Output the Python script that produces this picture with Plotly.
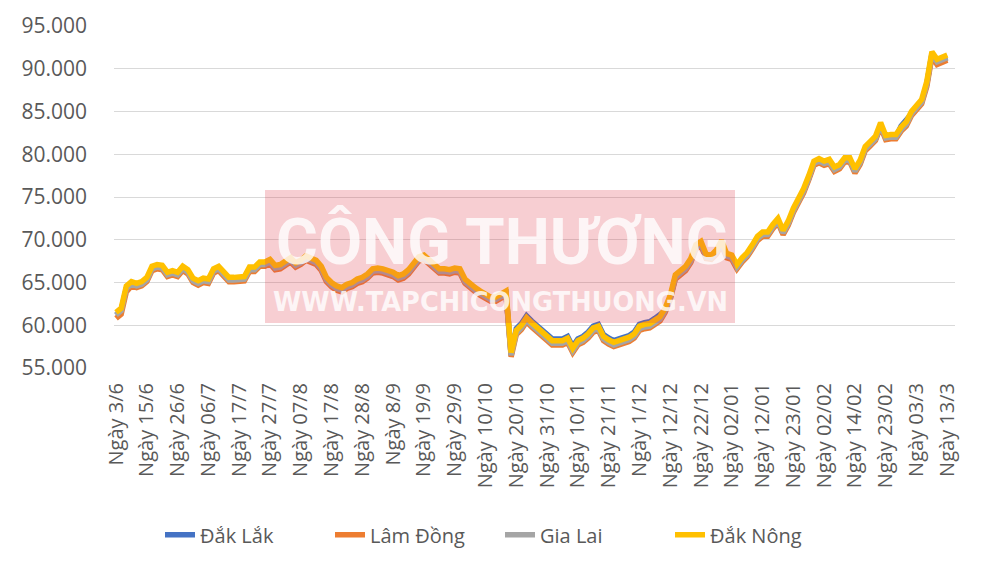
import plotly.graph_objects as go

# Tick labels (one every 6 data points)
tick_labels = ["Ngày 3/6", "Ngày 15/6", "Ngày 26/6", "Ngày 06/7", "Ngày 17/7", "Ngày 27/7",
               "Ngày 07/8", "Ngày 17/8", "Ngày 28/8", "Ngày 8/9", "Ngày 19/9", "Ngày 29/9",
               "Ngày 10/10", "Ngày 20/10", "Ngày 31/10", "Ngày 10/11", "Ngày 21/11", "Ngày 1/12",
               "Ngày 12/12", "Ngày 22/12", "Ngày 02/01", "Ngày 12/01", "Ngày 23/01", "Ngày 02/02",
               "Ngày 14/02", "Ngày 23/02", "Ngày 03/3", "Ngày 13/3"]
points_per_label = 6

series_names = ["Đắk Lắk", "Lâm Đồng", "Gia Lai", "Đắk Nông"]

dak_lak = [
    61200, 61700, 64300, 64800, 64600, 64800, 65300, 66600, 66800, 66700, 65900, 66100,
    65900, 66600, 66200, 65200, 64900, 65200, 65100, 66300, 66600, 65900, 65300, 65300,
    65400, 65400, 66500, 66500, 67100, 67100, 67400, 66700, 66800, 67300, 67600, 67000,
    67300, 67800, 67600, 67300, 66600, 65300, 64700, 64300, 64100, 64500, 64700, 65100,
    65300, 65700, 66300, 66400, 66300, 66100, 65900, 65500, 65700, 66200, 67000, 67700,
    67900, 67300, 66700, 66300, 66300, 66200, 66400, 66300, 65100, 64500, 64100, 63700,
    63400, 63000, 63000, 63300, 63700, 56500, 59600, 60200, 61100, 60500, 60000, 59500,
    59000, 58400, 58400, 58400, 58700, 57500, 58400, 58700, 59200, 59900, 60100, 58900,
    58500, 58200, 58400, 58600, 58800, 59200, 60100, 60300, 60400, 60800, 61200, 61700,
    63200, 65600, 66100, 66600, 67500, 69100, 69500, 68000, 67900, 68500, 69600, 68100,
    67900, 66800, 67600, 68200, 69100, 70100, 70600, 70600, 71500, 72200, 70800, 71900,
    73400, 74500, 75700, 77200, 78900, 79200, 78900, 79100, 78200, 78500, 79300, 79300,
    78000, 79000, 80600, 81200, 81800, 83400, 81900, 82000, 82000, 83300, 83900, 84700,
    85500, 86100, 88200, 91700, 90800, 91100, 91300]

lam_dong = [
    60800, 61300, 63900, 64600, 64400, 64600, 65100, 66400, 66600, 66500, 65700, 65900,
    65700, 66400, 66000, 65000, 64700, 65000, 64900, 66100, 66400, 65700, 65100, 65100,
    65200, 65200, 66300, 66300, 66900, 66900, 67200, 66500, 66600, 67100, 67400, 66800,
    67100, 67600, 67400, 67100, 66400, 65100, 64500, 64100, 63900, 64300, 64500, 64900,
    65100, 65500, 66100, 66200, 66100, 65900, 65700, 65300, 65500, 66000, 66800, 67500,
    67700, 67100, 66500, 66100, 66100, 66000, 66200, 66100, 64900, 64300, 63900, 63500,
    63200, 62800, 62800, 63100, 63500, 56300, 58900, 59500, 60400, 59800, 59300, 58800,
    58300, 57700, 57700, 57700, 58000, 56800, 57700, 58000, 58500, 59200, 59400, 58200,
    57800, 57500, 57700, 57900, 58100, 58500, 59400, 59600, 59700, 60100, 60500, 61500,
    63000, 65400, 65900, 66400, 67300, 68900, 69300, 67800, 67700, 68300, 69400, 67900,
    67700, 66600, 67400, 68000, 68900, 69900, 70400, 70400, 71300, 72000, 70600, 71700,
    73200, 74300, 75500, 77000, 78700, 79000, 78700, 78900, 78000, 78300, 79100, 79100,
    77800, 78800, 80400, 81000, 81600, 83200, 81700, 81800, 81800, 82700, 83300, 84500,
    85300, 85900, 87900, 91400, 90500, 90800, 91000]

gia_lai = [
    61200, 61700, 64300, 64800, 64600, 64800, 65300, 66600, 66800, 66700, 65900, 66100,
    65900, 66600, 66200, 65200, 64900, 65200, 65100, 66300, 66600, 65900, 65300, 65300,
    65400, 65400, 66500, 66500, 67100, 67100, 67400, 66700, 66800, 67300, 67600, 67000,
    67300, 67800, 67600, 67300, 66600, 65300, 64700, 64300, 64100, 64500, 64700, 65100,
    65300, 65700, 66300, 66400, 66300, 66100, 65900, 65500, 65700, 66200, 67000, 67700,
    67900, 67300, 66700, 66300, 66300, 66200, 66400, 66300, 65100, 64500, 64100, 63700,
    63400, 63000, 63000, 63300, 63700, 56500, 59100, 59700, 60600, 60000, 59500, 59000,
    58500, 57900, 57900, 57900, 58200, 57000, 57900, 58200, 58700, 59400, 59600, 58400,
    58000, 57700, 57900, 58100, 58300, 58700, 59600, 59800, 59900, 60300, 60700, 61700,
    63200, 65600, 66100, 66600, 67500, 69100, 69500, 68000, 67900, 68500, 69600, 68100,
    67900, 66800, 67600, 68200, 69100, 70100, 70600, 70600, 71500, 72200, 70800, 71900,
    73400, 74500, 75700, 77200, 78900, 79200, 78900, 79100, 78200, 78500, 79300, 79300,
    78000, 79000, 80600, 81200, 81800, 83400, 81900, 82000, 82000, 82900, 83500, 84700,
    85500, 86100, 88200, 91700, 90800, 91100, 91300]

dak_nong = [
    61500, 62000, 64600, 65100, 64900, 65100, 65600, 66900, 67100, 67000, 66200, 66400,
    66200, 66900, 66500, 65500, 65200, 65500, 65400, 66600, 66900, 66200, 65600, 65600,
    65700, 65700, 66800, 66800, 67400, 67400, 67700, 67000, 67100, 67600, 67900, 67300,
    67600, 68100, 67900, 67600, 66900, 65600, 65000, 64600, 64400, 64800, 65000, 65400,
    65600, 66000, 66600, 66700, 66600, 66400, 66200, 65800, 66000, 66500, 67300, 68000,
    68200, 67600, 67000, 66600, 66600, 66500, 66700, 66600, 65400, 64800, 64400, 64000,
    63700, 63300, 63300, 63600, 64000, 56800, 59400, 60000, 60900, 60300, 59800, 59300,
    58800, 58200, 58200, 58200, 58500, 57300, 58200, 58500, 59000, 59700, 59900, 58700,
    58300, 58000, 58200, 58400, 58600, 59000, 59900, 60100, 60200, 60600, 61000, 62000,
    63500, 65900, 66400, 66900, 67800, 69400, 69800, 68300, 68200, 68800, 69900, 68400,
    68200, 67100, 67900, 68500, 69400, 70400, 70900, 70900, 71800, 72500, 71100, 72200,
    73700, 74800, 76000, 77500, 79200, 79500, 79200, 79400, 78500, 78800, 79600, 79600,
    78300, 79300, 80900, 81500, 82100, 83700, 82200, 82300, 82300, 83200, 83800, 85000,
    85800, 86400, 88500, 92000, 91100, 91400, 91600]

y_ticks = [55000, 60000, 65000, 70000, 75000, 80000, 85000, 90000, 95000]
colors = ["#4472C4", "#ED7D31", "#A5A5A5", "#FFC000"]

n = len(dak_nong)
x = list(range(n))

fig = go.Figure()
for name, vals, col in zip(series_names, [dak_lak, lam_dong, gia_lai, dak_nong], colors):
    fig.add_trace(go.Scatter(x=x, y=vals, mode="lines", name=name,
                             line=dict(color=col, width=5.5)))

fig.update_layout(
    width=1000, height=563,
    margin=dict(l=114, r=45, t=26, b=195),
    paper_bgcolor="white", plot_bgcolor="white",
    separators=",.",
    font=dict(family="Open Sans, sans-serif", color="#595959", size=20),
    showlegend=True,
    legend=dict(orientation="h", xref="container", yref="container",
                x=0.5, xanchor="center", y=0.05, yanchor="middle",
                font=dict(size=20, color="#595959"),
                entrywidth=125, entrywidthmode="pixels",
                traceorder="normal"),
)
fig.update_xaxes(
    range=[-0.4, n - 1 + 1.5],
    tickmode="array",
    tickvals=list(range(0, n, points_per_label)),
    ticktext=tick_labels,
    tickangle=-90,
    tickfont=dict(size=20, color="#595959"),
    showgrid=False, zeroline=False, showline=False,
    ticks="", ticklabelstandoff=10,
)
fig.update_yaxes(
    range=[55000, 95000],
    tickmode="array", tickvals=y_ticks,
    tickformat=",d",
    tickfont=dict(size=21, color="#595959"),
    showgrid=True, gridcolor="#D9D9D9", gridwidth=1.3,
    zeroline=False, showline=False, ticks="", ticklabelstandoff=26,
)

# Watermark
def px_x(p):
    return (p - 114) / 841.0

def px_y(p):
    return (368 - p) / 342.0

fig.add_shape(type="rect", xref="paper", yref="paper",
              x0=px_x(265), x1=px_x(735), y0=px_y(323), y1=px_y(190),
              fillcolor="rgba(225,60,75,0.25)", line=dict(width=0), layer="above")
fig.add_annotation(xref="paper", yref="paper", x=px_x(502), y=px_y(242),
                   text="<b>CÔNG THƯƠNG</b>", showarrow=False, opacity=0.8,
                   font=dict(family="Roboto, sans-serif", size=64, color="white"),
                   xanchor="center", yanchor="middle")
fig.add_annotation(xref="paper", yref="paper", x=px_x(500), y=px_y(302),
                   text="<b>WWW.TAPCHICONGTHUONG.VN</b>", showarrow=False, opacity=0.8,
                   font=dict(family="DejaVu Sans, sans-serif", size=25.7, color="white"),
                   xanchor="center", yanchor="middle")

fig.write_html("out.html")
